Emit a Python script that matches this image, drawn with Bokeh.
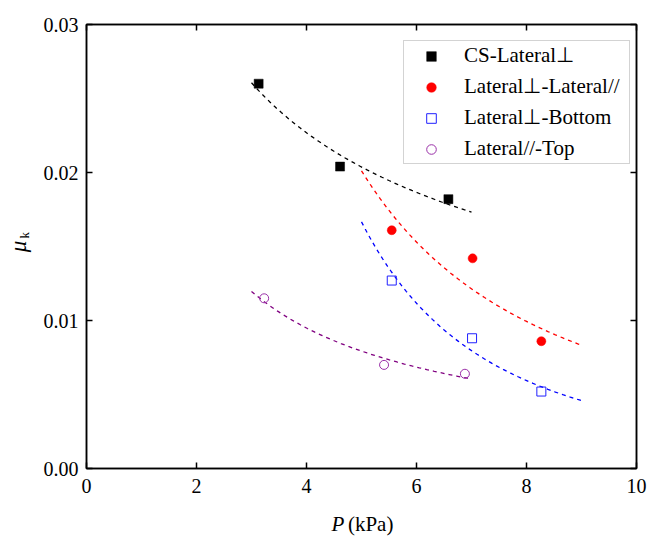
import numpy as np
from bokeh.plotting import figure
from bokeh.models import Range1d, LinearAxis, FixedTicker, Legend, LegendItem
from bokeh.layouts import row, column
from bokeh.core.properties import value
from bokeh.embed import file_html
from bokeh.resources import INLINE

# ---- data ----
P_cs = [3.13, 4.61, 6.58]
mu_cs = [0.0260, 0.0204, 0.0182]
P_ll = [5.55, 7.02, 8.27]
mu_ll = [0.0161, 0.0142, 0.0086]
P_lb = [5.55, 7.01, 8.27]
mu_lb = [0.0127, 0.0088, 0.0052]
P_lt = [3.23, 5.41, 6.88]
mu_lt = [0.0115, 0.0070, 0.0064]

fit_range_cs = [3.0, 7.0]
fit_range_ll = [5.0, 9.0]
fit_range_lb = [5.0, 9.0]
fit_range_lt = [3.0, 7.0]

names = ["CS-Lateral\u22a5", "Lateral\u22a5-Lateral//", "Lateral\u22a5-Bottom", "Lateral//-Top"]
x_ticks = [0, 2, 4, 6, 8, 10]
y_ticks = [0.0, 0.01, 0.02, 0.03]
y_tick_labels = ["0.00", "0.01", "0.02", "0.03"]
x_title = ["P", "(kPa)"]
y_title = ["\u03bc", "k"]

FONT = "Liberation Serif"
YW = 40          # width of the y-title strip
LEFT = 46        # main plot left border

# ---------------- main plot ----------------
p = figure(frame_width=550, frame_height=444, output_backend="svg", toolbar_location=None,
           x_range=Range1d(0, 10), y_range=Range1d(0, 0.03),
           min_border_left=LEFT, min_border_right=12, min_border_top=24, min_border_bottom=34)
p.xgrid.visible = False
p.ygrid.visible = False
p.outline_line_color = "black"
p.outline_line_width = 1.5
p.background_fill_color = "white"
p.border_fill_color = "white"


def style_axis(ax, ticks, show_labels=True):
    ax.ticker = FixedTicker(ticks=ticks)
    ax.minor_tick_line_color = None
    ax.major_tick_in = 6
    ax.major_tick_out = 0
    ax.major_tick_line_width = 1.5
    ax.major_tick_line_color = "black"
    ax.axis_line_color = "black"
    ax.axis_line_width = 1.5
    ax.major_label_text_font = FONT
    ax.major_label_text_color = "black"
    ax.major_label_text_font_size = "20px"
    if not show_labels:
        ax.major_label_overrides = {t: "" for t in ticks}
        ax.major_label_standoff = 0


style_axis(p.xaxis[0], x_ticks)
style_axis(p.yaxis[0], y_ticks)
p.xaxis[0].major_label_standoff = 10
p.yaxis[0].major_label_standoff = 8
p.yaxis[0].major_label_overrides = dict(zip(y_ticks, y_tick_labels))

top_ax = LinearAxis()
style_axis(top_ax, x_ticks, show_labels=False)
p.add_layout(top_ax, "above")
right_ax = LinearAxis()
style_axis(right_ax, y_ticks, show_labels=False)
p.add_layout(right_ax, "right")


def power_fit(xs, ys, rng):
    b, lna = np.polyfit(np.log(xs), np.log(ys), 1)
    xf = np.linspace(rng[0], rng[1], 60)
    return xf, np.exp(lna) * xf ** b


series = [
    (P_cs, mu_cs, fit_range_cs, "black", "square", True, "black"),
    (P_ll, mu_ll, fit_range_ll, "red", "circle", True, "red"),
    (P_lb, mu_lb, fit_range_lb, "#2020ff", "square", False, "blue"),
    (P_lt, mu_lt, fit_range_lt, "#9a30a8", "circle", False, "#800080"),
]

items = []
for (xs, ys, rng, col, marker, filled, lcol), name in zip(series, names):
    xf, yf = power_fit(xs, ys, rng)
    p.line(xf, yf, line_color=lcol, line_width=1.3, line_dash="4 4")
    r = p.scatter(xs, ys, marker=marker, size=9,
                  fill_color=col if filled else None, line_color=col,
                  line_width=1.0 if not filled else 0.5)
    items.append(LegendItem(label=name, renderers=[r]))

legend = Legend(items=items, location=(317, 304))
legend.label_text_font = FONT
legend.label_text_font_size = "21px"
legend.label_text_color = "black"
legend.padding = 2
legend.spacing = 6
legend.label_height = 24
legend.glyph_height = 24
legend.glyph_width = 50
legend.label_standoff = 8
legend.label_width = 163
legend.border_line_color = "#a8a8a8"
legend.border_line_width = 1.5
legend.background_fill_color = "white"
legend.background_fill_alpha = 1.0
legend.margin = 0
p.add_layout(legend, "center")


# ---------------- axis-title strips ----------------
def blank_fig(w, h):
    f = figure(width=w, height=h, output_backend="svg", toolbar_location=None,
               x_range=Range1d(0, w), y_range=Range1d(0, h),
               x_axis_type=None, y_axis_type=None,
               min_border=0, min_border_left=0, min_border_right=0,
               min_border_top=0, min_border_bottom=0)
    f.xgrid.visible = False
    f.ygrid.visible = False
    f.outline_line_color = None
    f.background_fill_color = "white"
    f.border_fill_color = "white"
    return f


TOTAL_H = 538
MAIN_W = LEFT + 550 + 12
XH = 36
xfig = blank_fig(MAIN_W, XH)
split_x = 285
xfig.text(x=[split_x], y=[15], text=[x_title[0]], text_align="right", text_baseline="middle",
          text_font=value(FONT), text_font_style="italic", text_font_size="21px", text_color="black")
xfig.text(x=[split_x + 4], y=[15], text=[x_title[1]], text_align="left", text_baseline="middle",
          text_font=value(FONT), text_font_size="21px", text_color="black")

yfig = blank_fig(YW, TOTAL_H)
yfig.text(x=[18], y=[292], text=[y_title[0]], angle=np.pi / 2, text_align="center",
          text_baseline="middle", text_font=value(FONT), text_font_style="italic",
          text_font_size="23px", text_color="black")
yfig.text(x=[24], y=[300], text=[y_title[1]], angle=np.pi / 2, text_align="left",
          text_baseline="middle", text_font=value(FONT), text_font_size="13px", text_color="black")

layout = row(yfig, column(p, xfig, spacing=0), spacing=0)

open("out.html", "w").write(file_html(layout, INLINE))
